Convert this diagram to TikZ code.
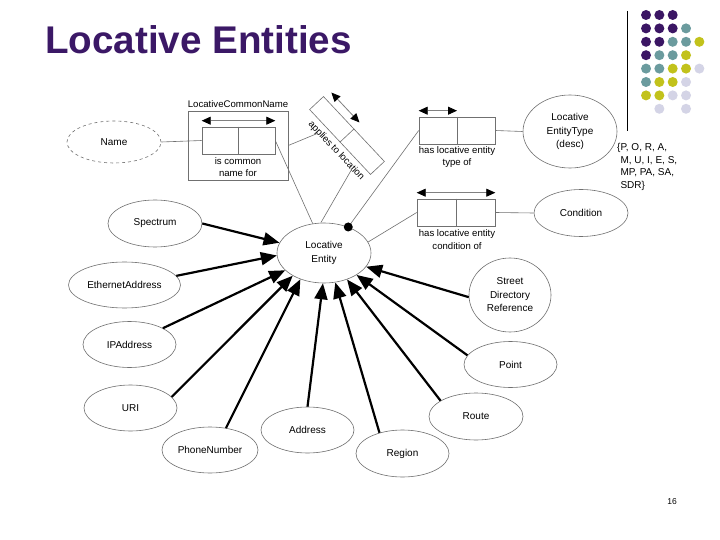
\documentclass[tikz,border=0pt]{standalone}
\usepackage{fontspec}
\setmainfont{Liberation Sans}
\usetikzlibrary{arrows.meta,shapes.geometric}
\definecolor{titlec}{HTML}{3B1866}
\definecolor{dpur}{HTML}{3B1664}
\definecolor{dteal}{HTML}{6B9B9E}
\definecolor{dyel}{HTML}{C2C21B}
\definecolor{dlav}{HTML}{D4D4E6}
\definecolor{linec}{HTML}{707070}
\begin{document}
\begin{tikzpicture}[x=1pt,y=-1pt,
  ent/.style={ellipse, draw=linec, fill=white, line width=0.6pt, inner sep=0pt, align=center, font=\fontsize{10}{13.5}\selectfont},
  relbox/.style={draw=linec, fill=white, line width=0.6pt, inner sep=0pt},
  conn/.style={draw=linec, line width=0.6pt},
  isa/.style={line width=2.2pt, -{Triangle[length=16pt,width=13pt]}},
  dbl/.style={draw=gray, line width=0.8pt, {Triangle[length=9pt,width=8pt,color=black]}-{Triangle[length=9pt,width=8pt,color=black]}},
  lbl/.style={font=\fontsize{9.6}{12.5}\selectfont, align=center, inner sep=0pt},
  dotc/.style={circle, inner sep=0pt, minimum size=10pt, fill=#1}]
\useasboundingbox (0,0) rectangle (720,540);
\fill[white] (0,0) rectangle (720,540);

% title
\node[anchor=base west, inner sep=0pt, font=\fontsize{38.6}{40}\selectfont\bfseries, text=titlec] (title) at (45,54) {Locative Entities};

% decoration
\draw[line width=1pt] (627,11) -- (627,131);
\foreach \c/\r/\col in {1/1/dpur,2/1/dpur,3/1/dpur,
  1/2/dpur,2/2/dpur,3/2/dpur,4/2/dteal,
  1/3/dpur,2/3/dpur,3/3/dteal,4/3/dteal,5/3/dyel,
  1/4/dpur,2/4/dteal,3/4/dteal,4/4/dyel,
  1/5/dteal,2/5/dteal,3/5/dyel,4/5/dyel,5/5/dlav,
  1/6/dteal,2/6/dyel,3/6/dyel,4/6/dlav,
  1/7/dyel,2/7/dyel,3/7/dlav,4/7/dlav,
  2/8/dlav,4/8/dlav}
  \node[dotc=\col] (d\c\r) at ({632.7+13.33*\c},{1.6+13.4*\r}) {};

% entities
\node[ent, dashed, minimum width=94pt, minimum height=42pt] (name) at (114,142) {Name};
\node[ent, minimum width=94pt, minimum height=60pt] (le) at (324,253) {Locative\\Entity};
\node[ent, minimum width=94pt, minimum height=73pt] (let) at (570,131.5) {Locative\\EntityType\\(desc)};
\node[ent, minimum width=94pt, minimum height=47pt] (cond) at (581,213) {Condition};
\node[ent, minimum width=94pt, minimum height=47pt] (spec) at (155,223.5) {Spectrum};
\node[ent, minimum width=112pt, minimum height=46pt] (eth) at (124.5,285) {EthernetAddress};
\node[ent, minimum width=93pt, minimum height=46pt] (ip) at (129.5,344.5) {IPAddress};
\node[ent, minimum width=93pt, minimum height=46pt] (uri) at (130.5,408) {URI};
\node[ent, minimum width=96pt, minimum height=46pt] (phone) at (210,450) {PhoneNumber};
\node[ent, minimum width=93pt, minimum height=46pt] (addr) at (307.5,430) {Address};
\node[ent, minimum width=93pt, minimum height=47pt] (region) at (402.5,453.5) {Region};
\node[ent, minimum width=94pt, minimum height=47pt] (route) at (476,416.5) {Route};
\node[ent, minimum width=93pt, minimum height=46pt] (point) at (510.5,364.5) {Point};
\node[ent, minimum width=82pt, minimum height=74pt] (sdr) at (510,295) {Street\\Directory\\Reference};

\node[anchor=north west, inner sep=0pt, align=left, font=\fontsize{10}{12.7}\selectfont] (codes) at (617,143)
  {\{P, O, R, A,\\\phantom{\{}M, U, I, E, S,\\\phantom{\{}MP, PA, SA,\\\phantom{\{}SDR\}};

% LocativeCommonName
\node[relbox, minimum width=100pt, minimum height=69pt] (lcnOut) at (238,145.5) {};
\node[relbox, minimum width=73pt, minimum height=27pt] (lcnIn) at (238.5,140.5) {};
\draw[conn] (lcnIn.north) -- (lcnIn.south);
\draw[dbl] ([yshift=6pt]lcnIn.north west) -- ([yshift=6pt]lcnIn.north east);
\node[lbl] (lcnLbl) at (238,104.5) {LocativeCommonName};
\node[lbl] (lcnTxt) at (238,167.3) {is common\\name for};

% has locative entity type of
\node[relbox, minimum width=76pt, minimum height=27pt] (tb) at (457,130.5) {};
\draw[conn] (tb.north) -- (tb.south);
\draw[dbl] ([yshift=6pt]tb.north west) -- ([yshift=6pt]tb.north);
\node[lbl] (tbTxt) at (457,157) {has locative entity\\type of};

% has locative entity condition of
\node[relbox, minimum width=78pt, minimum height=27pt] (cb) at (456,212.5) {};
\draw[conn] (cb.north) -- (cb.south);
\draw[dbl] ([yshift=6pt]cb.north west) -- ([yshift=6pt]cb.north east);
\node[lbl] (cbTxt) at (457,239.5) {has locative entity\\condition of};

% applies to location (rotated)
\begin{scope}[shift={(347,135.5)}, rotate=-46.8]
  \node[relbox, minimum width=89pt, minimum height=19pt, transform shape] (ap) at (0,0) {};
  \draw[conn] (ap.north) -- (ap.south);
  \coordinate (apA1) at (-42,-18);
  \coordinate (apA2) at (-1,-18);
  \draw[dbl] (apA1) -- (apA2);
  \node[lbl, transform shape] (apTxt) at (3.7,18.3) {applies to location};
  \coordinate (apL) at (-21.7,20);
  \coordinate (apR) at (27.8,19.5);
\end{scope}

% thin connectors
\draw[conn] (name.east) -- (lcnIn.west);
\draw[conn] (lcnIn.east) -- (le.111);
\draw[conn] (lcnOut.east) -- (apL);
\draw[conn] (apR) -- (le.96);
\draw[conn] (tb.west) -- (le.47);
\fill (le.47) circle (4.5pt);
\draw[conn] (cb.west) -- (le.14);
\draw[conn] (tb.east) -- (let.west);
\draw[conn] (cb.east) -- (cond.west);

% isa arrows
\draw[isa] (spec.0) -- (le.167);
\draw[isa] (eth.10) -- (le.183);
\draw[isa] (ip.26) -- (le.204);
\draw[isa] (uri.15) -- (le.216);
\draw[isa] (phone.54) -- (le.228);
\draw[isa] (addr.90) -- (le.268);
\draw[isa] (region.138) -- (le.291);
\draw[isa] (route.156) -- (le.311);
\draw[isa] (point.168) -- (le.326);
\draw[isa] (sdr.183) -- (le.342);

\node[inner sep=0pt, font=\fontsize{8.5}{10}\selectfont] (pg) at (672,502) {16};
\end{tikzpicture}
\end{document}
